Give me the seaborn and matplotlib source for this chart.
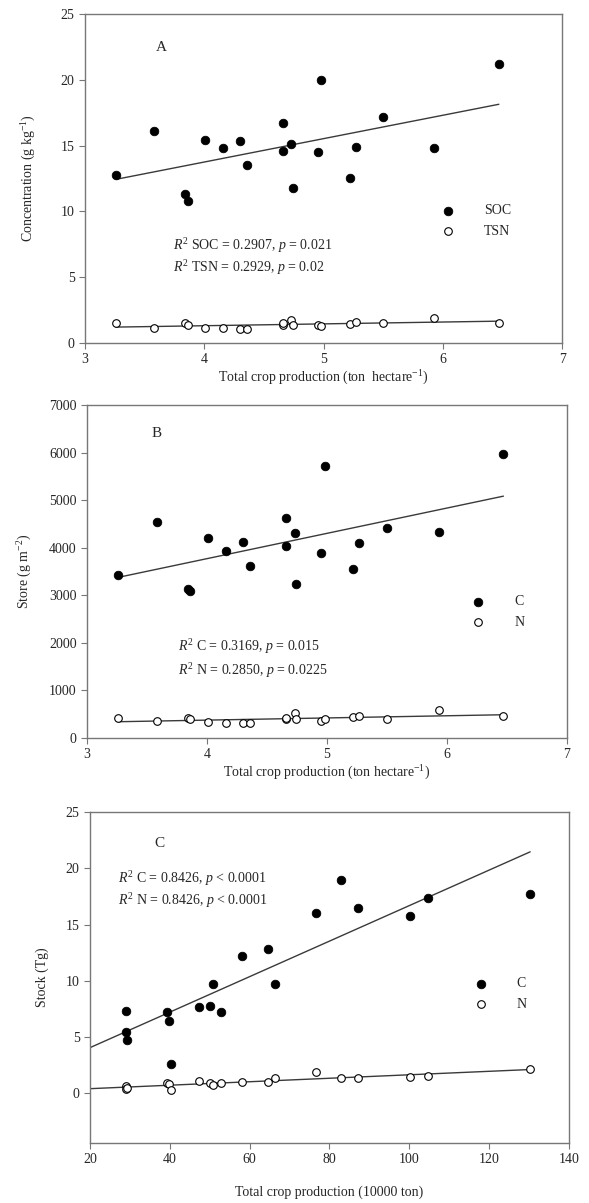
import numpy as np
import pandas as pd
import matplotlib
matplotlib.use("Agg")
import matplotlib.pyplot as plt
import seaborn as sns

# Panel A / B share the same x values (ton hectare-1)
prod_ha = [3.26, 3.58, 3.84, 3.86, 4.01, 4.16, 4.30, 4.36, 4.66, 4.66,
           4.73, 4.74, 4.95, 4.98, 5.22, 5.27, 5.50, 5.93, 6.47]
# A: concentration (g kg-1)
soc = [12.8, 16.1, 11.3, 10.8, 15.4, 14.85, 15.35, 13.5, 16.7, 14.6,
       15.1, 11.8, 14.5, 20.0, 12.5, 14.9, 17.2, 14.8, 21.2]
tsn = [1.52, 1.14, 1.52, 1.34, 1.14, 1.14, 1.09, 1.09, 1.34, 1.52,
       1.77, 1.39, 1.34, 1.32, 1.44, 1.62, 1.52, 1.90, 1.52]
# B: store (g m-2)
c_store = [3430, 4540, 3130, 3090, 4210, 3940, 4120, 3620, 4040, 4620,
           4310, 3240, 3900, 5710, 3560, 4100, 4410, 4340, 5980]
n_store = [420, 350, 420, 390, 340, 325, 310, 325, 390, 430,
           530, 400, 360, 400, 435, 465, 400, 585, 455]
# C: stock (Tg) vs total crop production (10000 ton)
prod_t = [28.9, 28.9, 29.3, 39.3, 39.8, 40.3, 47.4, 50.1, 50.7, 52.9,
          58.1, 64.7, 66.3, 76.6, 82.9, 87.1, 100.3, 104.7, 130.3]
c_stock = [7.35, 5.42, 4.74, 7.23, 6.40, 2.58, 7.70, 7.79, 9.69, 7.26,
           12.2, 12.86, 9.72, 16.0, 19.0, 16.47, 15.8, 17.33, 17.69]
n_stock = [0.65, 0.41, 0.45, 0.89, 0.80, 0.30, 1.10, 0.89, 0.74, 0.95,
           0.98, 1.04, 1.39, 1.93, 1.33, 1.33, 1.48, 1.57, 2.13]

sns.set_style("ticks")
plt.rcParams['font.family'] = ['Liberation Serif', 'DejaVu Serif']
plt.rcParams['mathtext.fontset'] = 'custom'
plt.rcParams['mathtext.rm'] = 'Liberation Serif'
plt.rcParams['mathtext.it'] = 'Liberation Serif:italic'
plt.rcParams['font.size'] = 10

fig = plt.figure(figsize=(5.89, 12.03), dpi=100)
axA = fig.add_axes([0.1443, 0.7149, 0.810, 0.2735])
axB = fig.add_axes([0.1477, 0.3865, 0.815, 0.2768])
axC = fig.add_axes([0.1528, 0.0499, 0.813, 0.2751])

dfA = pd.DataFrame({"x": prod_ha, "SOC": soc, "TSN": tsn})
dfB = pd.DataFrame({"x": prod_ha, "C": c_store, "N": n_store})
dfC = pd.DataFrame({"x": prod_t, "C": c_stock, "N": n_stock})

line_kw = dict(color="#3a3a3a", lw=1.0)


def draw(ax, df, filled, hollow, extend=False):
    for col in (filled, hollow):
        sns.regplot(data=df, x="x", y=col, ax=ax, scatter=False, ci=None,
                    truncate=not extend, line_kws=line_kw)
    sns.scatterplot(data=df, x="x", y=filled, ax=ax, color="black", s=38,
                    edgecolor="black", linewidth=0.6, label=filled, zorder=3)
    sns.scatterplot(data=df, x="x", y=hollow, ax=ax, facecolor="white", s=30,
                    edgecolor="black", linewidth=0.8, label=hollow, zorder=3)


draw(axA, dfA, "SOC", "TSN")
draw(axB, dfB, "C", "N")
# panel C lines run from the left axis edge to the last point
axC.set_xlim(20, max(prod_t))
draw(axC, dfC, "C", "N", extend=True)

axA.set_xlim(3, 7)
axA.set_xticks([3, 4, 5, 6, 7])
axA.set_ylim(0, 25)
axA.set_yticks([0, 5, 10, 15, 20, 25])
axA.set_xlabel("Total crop production (ton  hectare$^{-1}$)", labelpad=2)
axA.set_ylabel("Concentration (g kg$^{-1}$)", labelpad=16)

axB.set_xlim(3, 7)
axB.set_xticks([3, 4, 5, 6, 7])
axB.set_ylim(0, 7000)
axB.set_yticks(range(0, 7001, 1000))
axB.set_xlabel("Total crop production (ton hectare$^{-1}$)", labelpad=2)
axB.set_ylabel("Store (g m$^{-2}$)", labelpad=11)

axC.set_xlim(20, 140)
axC.set_ylim(-4.4, 25)
axC.set_yticks([0, 5, 10, 15, 20, 25])
axC.set_xlabel("Total crop production (10000 ton)", labelpad=14)
axC.set_ylabel("Stock (Tg)", labelpad=12)

texts = {
    axA: ("A", (0.161, 0.897), [r"$R^2$ SOC = 0.2907, $p$ = 0.021",
                                r"$R^2$ TSN = 0.2929, $p$ = 0.02"],
          (0.184, 0.295, 0.228), (0.72, 0.37)),
    axB: ("B", (0.146, 0.916), [r"$R^2$ C = 0.3169, $p$ = 0.015",
                                r"$R^2$ N = 0.2850, $p$ = 0.0225"],
          (0.19, 0.276, 0.204), (0.775, 0.378)),
    axC: ("C", (0.146, 0.906), [r"$R^2$ C = 0.8426, $p$ < 0.0001",
                                r"$R^2$ N = 0.8426, $p$ < 0.0001"],
          (0.058, 0.80, 0.734), (0.775, 0.45)),
}

for ax, (letter, lpos, lines, tpos, legpos) in texts.items():
    ax.text(*lpos, letter, transform=ax.transAxes, fontsize=11,
            ha="center", va="center")
    ax.text(tpos[0], tpos[1], lines[0], transform=ax.transAxes,
            fontsize=10, va="center")
    ax.text(tpos[0], tpos[2], lines[1], transform=ax.transAxes,
            fontsize=10, va="center")
    ax.legend(loc="center left", bbox_to_anchor=legpos, frameon=False,
              fontsize=10, handletextpad=1.6, labelspacing=0.55,
              borderaxespad=0)
    for sp in ax.spines.values():
        sp.set_color("#777777")
        sp.set_linewidth(1.0)
    ax.tick_params(direction="out", length=4, width=0.8, color="#777777",
                   labelsize=10, top=False, right=False)

fig.savefig("out.png", dpi=100)
